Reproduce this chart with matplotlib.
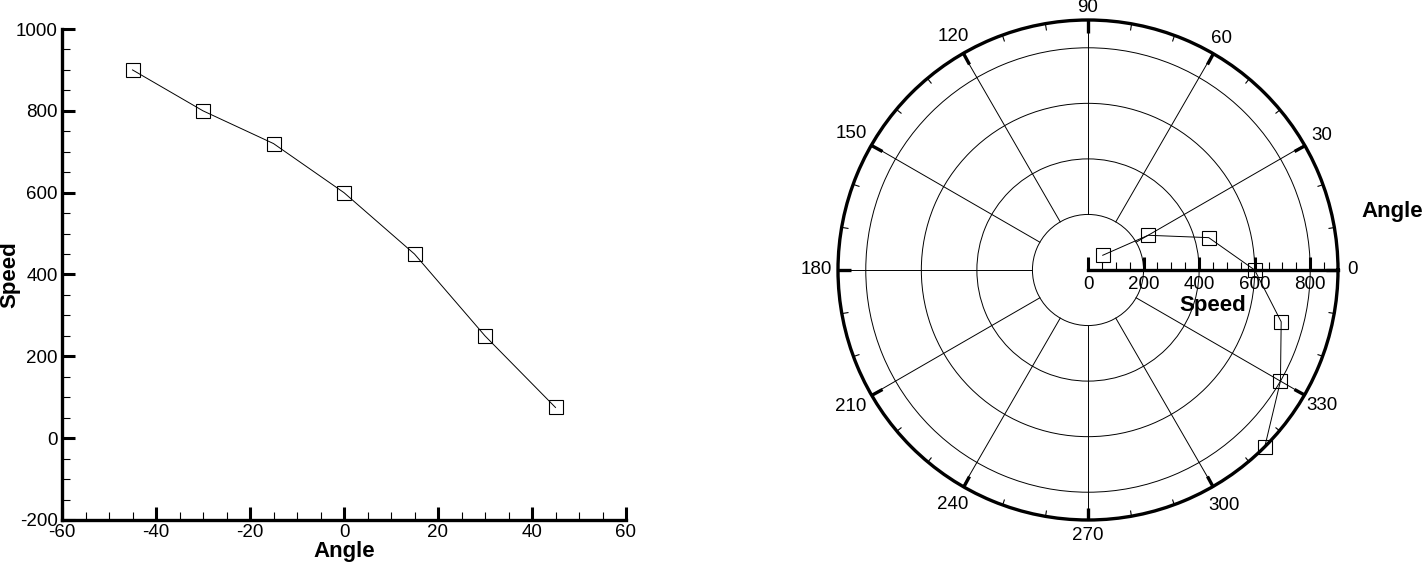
import numpy as np
import matplotlib
matplotlib.use('Agg')
import matplotlib.pyplot as plt
from matplotlib.ticker import MultipleLocator

plt.rcParams['font.family'] = ['Liberation Sans', 'DejaVu Sans']
plt.rcParams['axes.unicode_minus'] = False

# data
angles = [-45, -30, -15, 0, 15, 30, 45]
speeds = [900, 800, 720, 600, 450, 250, 75]

theta_ticks = list(range(0, 360, 30))
theta_minor = list(range(0, 360, 10))
r_ticks = [0, 200, 400, 600, 800]
r_grid = [200, 400, 600, 800]
r_max = 900

# label pads (points) per theta tick, to sit the labels like the original
theta_label_pad = [3.1, 7.4, 5.6, 2.0, 7.4, 10.0, 8.8, 10.0, 8.1, 3.8, 8.8, 7.4]

W, H = 1422, 566
fig = plt.figure(figsize=(W / 100, H / 100), dpi=100)

# ---- left XY plot
ax = fig.add_axes([62 / W, 1 - 520 / H, 564 / W, 491 / H])
ax.plot(angles, speeds, color='black', linewidth=0.7, marker='s', markersize=9.5,
        markerfacecolor='none', markeredgecolor='black', markeredgewidth=0.8)
ax.set_xlim(-60, 60)
ax.set_ylim(-200, 1000)
ax.xaxis.set_major_locator(MultipleLocator(20))
ax.xaxis.set_minor_locator(MultipleLocator(5))
ax.yaxis.set_major_locator(MultipleLocator(200))
ax.yaxis.set_minor_locator(MultipleLocator(50))
for s in ['top', 'right']:
    ax.spines[s].set_visible(False)
for s in ['left', 'bottom']:
    ax.spines[s].set_linewidth(2.4)
ax.tick_params(which='major', direction='in', length=9.5, width=2.2, labelsize=13.5, pad=3)
ax.tick_params(which='minor', direction='in', length=5.5, width=0.8)
ax.set_xlabel('Angle', fontsize=16, fontweight='bold')
ax.set_ylabel('Speed', fontsize=16, fontweight='bold')
ax.xaxis.set_label_coords(0.5, -0.043)
ax.yaxis.set_label_coords(-0.073, 0.5)

# ---- right polar plot
cx, cy, R = 1088, 270, 250
pax = fig.add_axes([(cx - R) / W, 1 - (cy + R) / H, 2 * R / W, 2 * R / H], projection='polar')
pax.set_ylim(0, r_max)
pax.set_yticks(r_grid)
pax.set_yticklabels([])
pax.tick_params(axis='y', length=0)
pax.yaxis.grid(True, color='black', linewidth=0.7, linestyle='-')
pax.set_xticks(np.radians(theta_ticks))
pax.set_xticklabels([str(t) for t in theta_ticks])
pax.set_xticks(np.radians(theta_minor), minor=True)
pax.xaxis.grid(False)
pax.tick_params(axis='x', which='both', bottom=False, top=True)
pax.tick_params(axis='x', which='major', direction='in', length=9, width=2.4, labelsize=13.5)
pax.tick_params(axis='x', which='minor', direction='in', length=4.5, width=0.8)
for tick, p in zip(pax.xaxis.get_major_ticks(), theta_label_pad):
    tick.set_pad(p)
pax.spines['polar'].set_linewidth(2.4)

# spokes from the first grid circle outwards
for t in theta_ticks:
    pax.plot([np.radians(t)] * 2, [r_grid[0], r_max], color='black', linewidth=0.7)

pax.plot(np.radians(angles), speeds, color='black', linewidth=0.7, marker='s', markersize=9.5,
         markerfacecolor='none', markeredgecolor='black', markeredgewidth=0.8, clip_on=False)

# radial axis drawn along theta = 0
rax = fig.add_axes([cx / W, 1 - cy / H, R / W, 0.0001])
rax.patch.set_visible(False)
for s in ['top', 'right', 'left']:
    rax.spines[s].set_visible(False)
rax.spines['bottom'].set_linewidth(2.4)
rax.set_xlim(0, r_max)
rax.set_xticks(r_ticks)
rax.xaxis.set_minor_locator(MultipleLocator(50))
rax.set_yticks([])
rax.tick_params(which='major', direction='in', length=9.5, width=2.2, labelsize=13.5, pad=4)
rax.tick_params(which='minor', direction='in', length=5.5, width=0.8)
rax.set_xlabel('Speed', fontsize=16, fontweight='bold', labelpad=2)

fig.text(1392 / W, 1 - 211 / H, 'Angle', fontsize=16, fontweight='bold', ha='center', va='center')

fig.savefig('out.png', dpi=100)
